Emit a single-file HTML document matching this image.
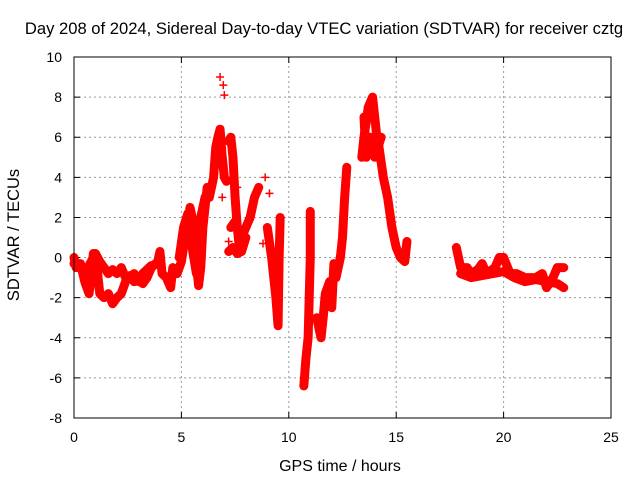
<!DOCTYPE html>
<html><head><meta charset="utf-8"><style>
body{margin:0;background:#fff;}
svg text{font-family:"Liberation Sans",sans-serif;font-size:14px;fill:#000;}
</style></head><body>
<svg id="chart" width="640" height="480" xmlns="http://www.w3.org/2000/svg">
<rect width="640" height="480" fill="#fff"/>
<text x="324" y="34" text-anchor="middle" style="font-size:16.6px">Day 208 of 2024, Sidereal Day-to-day VTEC variation (SDTVAR) for receiver cztg</text>
<text x="340" y="471" text-anchor="middle" style="font-size:16px">GPS time / hours</text>
<text transform="translate(19,235) rotate(-90)" text-anchor="middle" style="font-size:16.5px">SDTVAR / TECUs</text>
<g id="grid"></g><g id="marks"></g>
<rect x="74" y="57" width="537" height="361" fill="none" stroke="#000" stroke-width="1"/>
</svg>
<script>
const xTicks=[0,5,10,15,20,25];
const yTicks=[-8,-6,-4,-2,0,2,4,6,8,10];
const seg1T=[0,0.1,0.3,0.5,0.6,0.7,0.8,0.9,1.0,1.1,1.2,1.4,1.6,1.8,2.0,2.2,2.4,2.6,2.8,3.0,3.2,3.4,3.6,3.8];
const seg1V=[0,-0.5,-0.3,-1.2,-1.5,-1.8,-1,0.2,0,-0.8,-1.8,-2,-1.8,-2.3,-2,-1.8,-1.2,-0.9,-1.2,-1.1,-1.3,-1,-0.5,-0.3];
const seg2T=[0,0.2,0.5,1.0,1.2,1.4,1.6,1.8,2.0,2.2,2.4,2.6,2.8,3.0,3.2,3.4,3.6];
const seg2V=[-0.3,-0.3,-0.8,0.2,-0.2,-0.5,-0.8,-0.6,-0.8,-0.5,-1,-1,-0.8,-1.2,-0.8,-0.6,-0.4];
const seg3T=[3.9,4.0,4.1,4.3,4.5,4.6,4.8,5.0,5.1,5.2,5.3,5.4,5.5,5.6,5.7,5.8,5.9,6.0,6.1,6.2,6.3,6.5,6.6,6.7,6.8,6.9,7.0,7.1];
const seg3V=[-0.2,0.3,-0.8,-1,-1.5,-0.5,-0.8,-0.2,0.5,1,1.5,2.5,2,0.8,-0.3,-1.4,-0.5,1.5,2.5,3.5,3,4,5.5,6,6.4,5,4,3.8];
const seg3bT=[4.9,5.1,5.3,5.5,5.7,5.9,6.1,6.3];
const seg3bV=[0,1.5,2.2,0.5,-0.8,2,3,3.4];
const seg4T=[7.2,7.3,7.4,7.5,7.6,7.7,7.8,8.0,8.2,8.4,8.6];
const seg4V=[5.8,6,5,3,1.5,0.5,1,1.5,2,3,3.5];
const seg4bT=[7.2,7.4,7.6,7.8,8.0];
const seg4bV=[0.3,0.5,0.2,0.3,1];
const seg4cT=[7.3,7.5,7.7,7.9];
const seg4cV=[1.5,1.8,1.2,0.8];
const seg5T=[9.0,9.2,9.3,9.4,9.5,9.55,9.6];
const seg5V=[1.5,0,-1,-2,-3.4,0,2];
const seg6T=[10.7,10.8,10.9,11.0,11.0];
const seg6V=[-6.4,-5,-4,0,2.3];
const seg7T=[11.3,11.5,11.6,11.7,11.9,12.0,12.1,12.2,12.4,12.5,12.6,12.7];
const seg7V=[-3,-4,-3,-1.8,-1.2,-2.5,-0.3,-1,0,1,3,4.5];
const seg8T=[13.4,13.5,13.7,13.9,14.0,14.1,14.2,14.4,14.6,14.8,15.0,15.2,15.4,15.5];
const seg8V=[5,6,7.5,8,7,6,5.5,4,3,1.5,0.5,0,-0.2,0.8];
const seg8bT=[13.5,13.6,13.8,14.0,14.3];
const seg8bV=[7,5,6,5,6];
const seg9T=[17.8,18.0,18.3,18.5,18.8,19.0,19.2,19.6,19.8,20.0,20.3,20.6,21.0,21.5,21.8,22.0,22.3,22.5,22.8];
const seg9V=[0.5,-0.5,-0.5,-0.8,-0.6,-0.3,-0.8,-0.5,0,0,-0.8,-0.8,-1,-1,-0.8,-1.5,-1,-0.5,-0.5];
const seg9bT=[18.0,18.5,19.0,19.5,20.0,20.5,21.0,21.5,22.0,22.5,22.8];
const seg9bV=[-0.8,-1,-0.9,-0.8,-0.7,-1,-1.2,-1.1,-1.2,-1.3,-1.5];
const outT=[6.8,6.95,7.0,6.9,7.05,8.9,9.1,8.8,7.2,7.6];
const outV=[9,8.6,8.1,3,4,4,3.2,0.7,0.8,3.5];
const segmentsT=[seg1T,seg2T,seg3T,seg3bT,seg4T,seg4bT,seg4cT,seg5T,seg6T,seg7T,seg8T,seg8bT,seg9T,seg9bT];
const segmentsV=[seg1V,seg2V,seg3V,seg3bV,seg4V,seg4bV,seg4cV,seg5V,seg6V,seg7V,seg8V,seg8bV,seg9V,seg9bV];
const NS="http://www.w3.org/2000/svg";
const X0=74,X1=611,Y0=418,Y1=57;
function sx(t){return X0+(t-0)/25*(X1-X0);}
function sy(v){return Y0-(v+8)/18*(Y0-Y1);}
const grid=document.getElementById('grid'),marks=document.getElementById('marks'),svg=document.getElementById('chart');
function mk(tag,a,p){const e=document.createElementNS(NS,tag);for(const k in a)e.setAttribute(k,a[k]);p.appendChild(e);return e;}
xTicks.forEach(t=>{
 if(t>0&&t<25){const g=mk('line',{x1:sx(t),x2:sx(t),y1:Y0,y2:Y1,stroke:'#999','stroke-dasharray':'2,3'},grid);
 
 }
 const tk=mk('path',{d:`M${sx(t)},${Y0}v-6M${sx(t)},${Y1}v6`,stroke:'#000'},grid);
 
 
 const l=mk('text',{x:sx(t),y:Y0+24,'text-anchor':'middle'},svg);l.textContent=t;
 
 
});
yTicks.forEach(v=>{
 if(v>-8&&v<10){const g=mk('line',{x1:X0,x2:X1,y1:sy(v),y2:sy(v),stroke:'#999','stroke-dasharray':'2,3'},grid);
 
 }
 const tk=mk('path',{d:`M${X0},${sy(v)}h6M${X1},${sy(v)}h-6`,stroke:'#000'},grid);
 
 
 const l=mk('text',{x:X0-12,y:sy(v)+5,'text-anchor':'end'},svg);l.textContent=v;
 
 
});
function plus(t,v){
 const p=mk('path',{d:`M${sx(t)-4},${sy(v)}h8M${sx(t)},${sy(v)-4}v8`,stroke:'#f00','stroke-width':1.5,fill:'none'},marks);
 
 
}
segmentsT.forEach((ts,i)=>{
 const vs=segmentsV[i];
 const pl=mk('polyline',{points:ts.map((t,j)=>sx(t)+','+sy(vs[j])).join(' '),fill:'none',stroke:'#f00','stroke-width':9,'stroke-linejoin':'round','stroke-linecap':'round'},marks);
 
 
 ts.forEach((t,j)=>plus(t,vs[j]));
});
outT.forEach((t,j)=>plus(t,outV[j]));
</script>
</body></html>
